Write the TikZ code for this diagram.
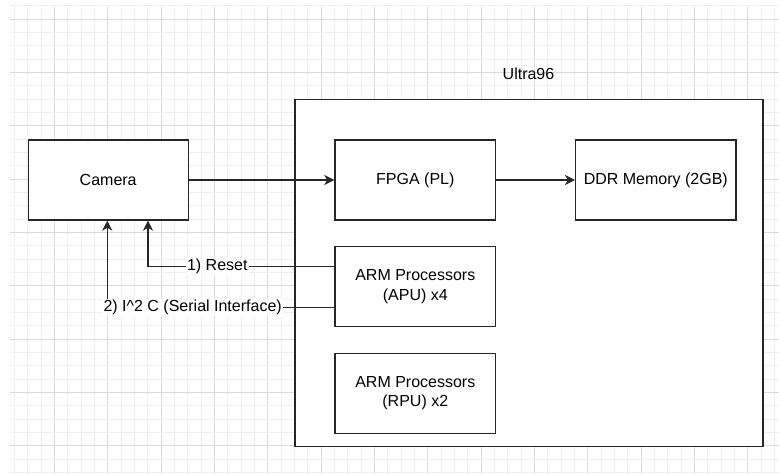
\documentclass[tikz,border=0pt]{standalone}
\usepackage{fontspec}
\setmainfont{Liberation Sans}
\usetikzlibrary{arrows.meta}
\definecolor{gridminor}{HTML}{F0F0F0}
\definecolor{gridmajor}{HTML}{DCDCDC}
\tikzset{
  blk/.style={draw=black!85, line width=1pt, fill=white, rectangle, inner sep=0pt, align=center, font=\fontsize{12}{14.4}\selectfont},
  conn/.style={draw=black!85, line width=1pt, -{Stealth[length=7.5pt,width=7.5pt,inset=2.2pt]}},
  lbl/.style={fill=white, inner sep=1pt, font=\fontsize{12}{14.4}\selectfont}
}
\begin{document}
\begin{tikzpicture}[x=0.75pt,y=-0.75pt]
\useasboundingbox (0,0) rectangle (779,474);
\fill[white] (0,0) rectangle (779,474);
% grid
\foreach \k in {1,...,58} {
  \pgfmathsetmacro{\xx}{1.333+13.333*\k}
  \pgfmathtruncatemacro{\m}{mod(\k,4)}
  \ifnum\m=0
    \draw[gridmajor, line width=0.75pt] (\xx,7) -- (\xx,474);
  \else
    \draw[gridminor, line width=0.75pt] (\xx,7) -- (\xx,474);
  \fi
}
\foreach \k in {0,...,35} {
  \pgfmathsetmacro{\yy}{6+13.333*\k}
  \pgfmathtruncatemacro{\m}{mod(\k,4)}
  \ifnum\m=1
    \draw[gridmajor, line width=0.75pt] (10,\yy) -- (779,\yy);
  \else
    \draw[gridminor, line width=0.75pt] (10,\yy) -- (779,\yy);
  \fi
}
% outer box
\node[blk, minimum width=468*0.75pt, minimum height=347.3*0.75pt] (ultra) at (529,273) {};
\node[font=\fontsize{12}{14.4}\selectfont] (ultralbl) at (528.5,73.5) {Ultra96};
% blocks
\node[blk, minimum width=160*0.75pt, minimum height=80*0.75pt] (camera) at (108.2,180) {Camera};
\node[blk, minimum width=160.7*0.75pt, minimum height=80*0.75pt] (fpga) at (415.3,180) {FPGA (PL)};
\node[blk, minimum width=160.3*0.75pt, minimum height=80*0.75pt] (ddr) at (655.8,180) {DDR Memory (2GB)};
\node[blk, minimum width=160.7*0.75pt, minimum height=80*0.75pt] (apu) at (415.3,286.7) {ARM Processors\\(APU) x4};
\node[blk, minimum width=160.7*0.75pt, minimum height=80*0.75pt] (rpu) at (415.3,393.3) {ARM Processors\\(RPU) x2};
% connectors
\draw[conn] (camera.east) -- (fpga.west);
\draw[conn] (fpga.east) -- (ddr.west);
\coordinate (ry) at (0,266.7);
\coordinate (iy) at (0,307.3);
\coordinate (rx) at (148,0);
\coordinate (ix) at (107.3,0);
\coordinate (rstA) at (apu.west |- ry);
\coordinate (i2cA) at (apu.west |- iy);
\coordinate (rstB) at (camera.south -| rx);
\coordinate (i2cB) at (camera.south -| ix);
\draw[conn] (rstA) -| node[lbl, pos=0.314] {1) Reset} (rstB);
\draw[conn] (i2cA) -| node[lbl, pos=0.312] {2) I\^{}2 C (Serial Interface)} (i2cB);
\end{tikzpicture}
\end{document}
